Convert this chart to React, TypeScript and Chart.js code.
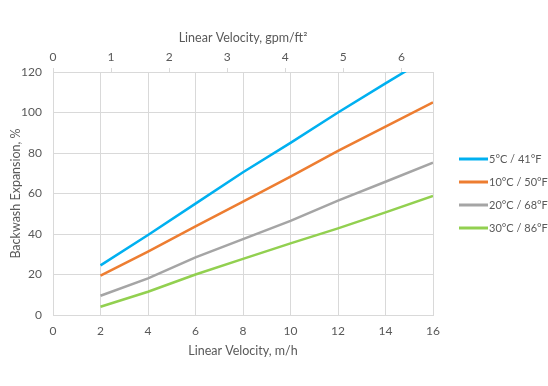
import React, { useEffect, useRef } from "react";
import { Chart, registerables } from "chart.js";

Chart.register(...registerables);

const velocityMh = [2, 4, 6, 8, 10, 12, 14, 16];
const seriesLabels = ["5°C / 41°F", "10°C / 50°F", "20°C / 68°F", "30°C / 86°F"];
const expansion5C = [24.5, 39.5, 55, 70.5, 85, 100, 114.4, 128.5];
const expansion10C = [19.4, 31.3, 43.8, 56, 68.3, 81, 93, 105];
const expansion20C = [9.5, 18.1, 28.5, 37.5, 46.5, 56.5, 65.8, 75.2];
const expansion30C = [4.1, 11.5, 20, 27.7, 35.4, 42.8, 50.7, 58.8];
const seriesColors = ["#00B0F0", "#ED7D31", "#A5A5A5", "#92D050"];
const MH_PER_GPMFT2 = 2.445;

const FONT = "Lato, 'Open Sans', sans-serif";
const TEXT = "#595959";
const GRID = "#D9D9D9";

const legendPlugin = {
  id: "sideLegend",
  afterDraw(chart: any) {
    const { ctx, chartArea } = chart;
    const n = chart.data.datasets.length;
    const gap = 23;
    const cy = (chartArea.top + chartArea.bottom) / 2;
    const x0 = chartArea.right + 26;
    ctx.save();
    chart.data.datasets.forEach((ds: any, i: number) => {
      const y = cy + (i - (n - 1) / 2) * gap;
      ctx.strokeStyle = ds.borderColor;
      ctx.lineWidth = 3;
      ctx.beginPath();
      ctx.moveTo(x0, y);
      ctx.lineTo(x0 + 29, y);
      ctx.stroke();
      ctx.fillStyle = TEXT;
      ctx.font = "11px " + FONT;
      ctx.textBaseline = "middle";
      ctx.textAlign = "left";
      ctx.fillText(ds.label, x0 + 30, y + 0.5);
    });
    ctx.restore();
  },
};

export default function App() {
  const ref = useRef<HTMLCanvasElement | null>(null);
  useEffect(() => {
    if (!ref.current) return;
    const all = [expansion5C, expansion10C, expansion20C, expansion30C];
    const chart = new Chart(ref.current, {
      type: "line",
      data: {
        datasets: all.map((vals, i) => ({
          label: seriesLabels[i],
          data: velocityMh.map((x, j) => ({ x, y: vals[j] })),
          borderColor: seriesColors[i],
          backgroundColor: seriesColors[i],
          borderWidth: 2.5,
          pointRadius: 0,
          tension: 0,
          xAxisID: "x",
          yAxisID: "y",
        })),
      },
      options: {
        animation: false,
        responsive: false,
        layout: { padding: { left: 0, top: 0, bottom: 0, right: 115 } },
        plugins: { legend: { display: false }, tooltip: { enabled: false } },
        scales: {
          x: {
            type: "linear",
            position: "bottom",
            min: 0,
            max: 16,
            ticks: { stepSize: 2, color: TEXT, font: { family: FONT, size: 12 }, padding: 9 },
            grid: { color: GRID, drawTicks: false },
            border: { color: GRID },
            title: {
              display: true,
              text: "Linear Velocity, m/h",
              color: TEXT,
              font: { family: FONT, size: 12.5 },
              padding: { top: 0, bottom: 28 },
            },
            afterFit(scale: any) {
              scale.height = 71;
            },
          },
          x2: {
            type: "linear",
            position: "top",
            min: 0,
            max: 16 / MH_PER_GPMFT2,
            ticks: {
              stepSize: 1,
              includeBounds: false,
              color: TEXT,
              font: { family: FONT, size: 12 },
              padding: 4,
            },
            grid: { drawOnChartArea: false, color: GRID, tickLength: 4 },
            border: { color: GRID },
            title: {
              display: true,
              text: "Linear Velocity, gpm/ft²",
              color: TEXT,
              font: { family: FONT, size: 12.5 },
              padding: { top: 30, bottom: 0 },
            },
            afterFit(scale: any) {
              scale.height = 72;
            },
          },
          y: {
            type: "linear",
            min: 0,
            max: 120,
            ticks: { stepSize: 20, color: TEXT, font: { family: FONT, size: 12 }, padding: 11 },
            grid: { color: GRID, drawTicks: false },
            border: { color: GRID },
            title: {
              display: true,
              text: "Backwash Expansion, %",
              color: TEXT,
              font: { family: FONT, size: 12.5 },
              padding: { top: 8, bottom: 0 },
            },
            afterFit(scale: any) {
              scale.width = 53;
            },
          },
        },
      },
      plugins: [legendPlugin],
    } as any);
    return () => chart.destroy();
  }, []);
  return (
    <div style={{ position: "absolute", left: 0, top: 0, width: 548, height: 386, background: "#fff" }}>
      <canvas ref={ref} width={548} height={386} />
    </div>
  );
}
